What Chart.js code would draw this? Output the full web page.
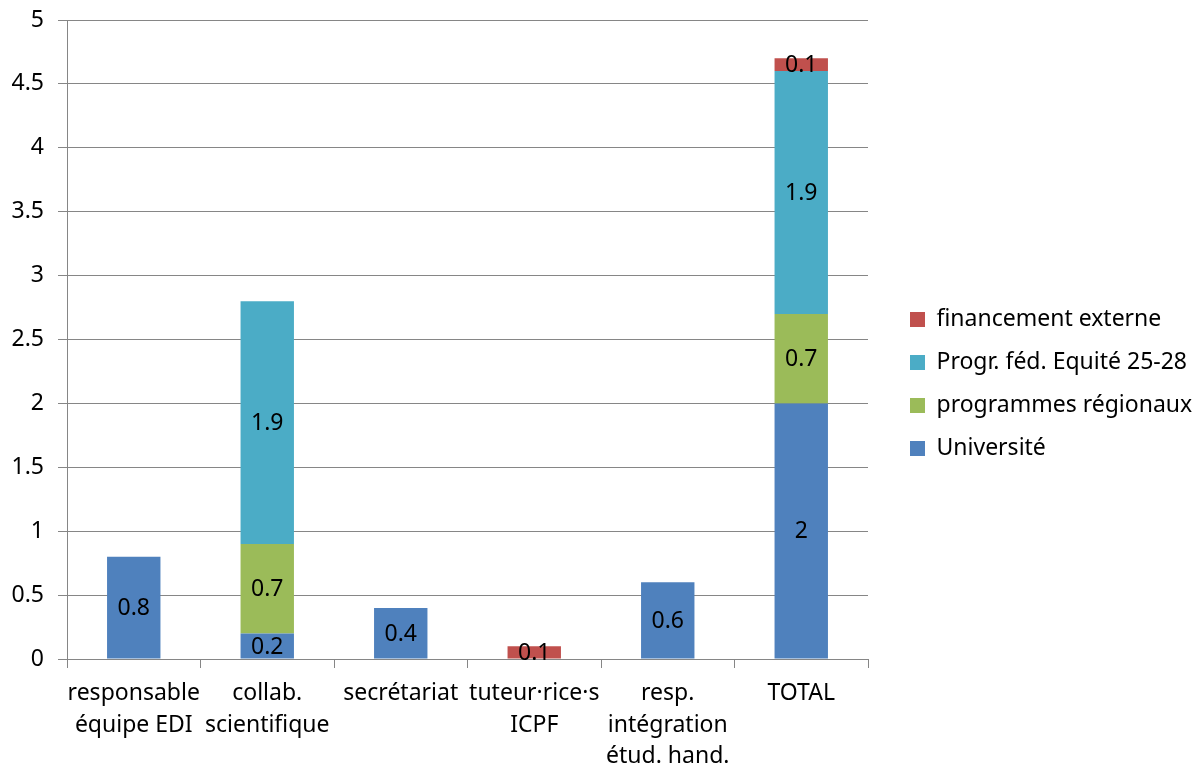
<!DOCTYPE html>
<html>
<head>
<meta charset="utf-8">
<script src="https://cdn.jsdelivr.net/npm/chart.js@4"></script>
<style>
  html, body { margin: 0; padding: 0; background: #fff; }
  #wrap { width: 1197px; height: 771px; }
</style>
</head>
<body>
<div id="wrap"><canvas id="postesChart"></canvas></div>
<script>
// catégories (axe x)
var categories = [
    ['responsable', 'équipe EDI'],
    ['collab.', 'scientifique'],
    'secrétariat',
    ['tuteur·rice·s', 'ICPF'],
    ['resp.', 'intégration', 'étud. hand.'],
    'TOTAL'
];

// valeurs par source de financement
var universite = [0.8, 0.2, 0.4, 0, 0.6, 2];
var regionaux = [0, 0.7, 0, 0, 0, 0.7];
var federal = [0, 1.9, 0, 0, 0, 1.9];
var externe = [0, 0, 0, 0.1, 0, 0.1];

var yTicks = [0, 0.5, 1, 1.5, 2, 2.5, 3, 3.5, 4, 4.5, 5];

var FONT = '"Noto Sans", sans-serif';

// étiquettes au centre des barres
var valueLabels = {
    id: 'valueLabels',
    afterDatasetsDraw: function (chart) {
        var ctx = chart.ctx;
        ctx.save();
        ctx.font = '23px ' + FONT;
        ctx.fillStyle = '#000';
        ctx.textAlign = 'center';
        ctx.textBaseline = 'middle';
        chart.data.datasets.forEach(function (ds, i) {
            var meta = chart.getDatasetMeta(i);
            meta.data.forEach(function (bar, j) {
                var v = ds.data[j];
                if (!v) return;
                var mid = (bar.y + bar.base) / 2;
                ctx.fillText(String(v), bar.x, mid + 1);
            });
        });
        ctx.restore();
    }
};

// largeur fixe de la légende à droite + petit décalage
var legendBox = {
    id: 'legendBox',
    beforeLayout: function (chart) {
        var lg = chart.legend;
        if (lg && !lg._patched) {
            var fit = lg.fit;
            lg.fit = function () {
                fit.call(this);
                this.width = 329;
            };
            lg._patched = true;
        }
    },
    afterLayout: function (chart) {
        var lg = chart.legend;
        lg.left += 22;
        lg.right += 22;
        var shift = 385 - (lg.top + lg.bottom) / 2 - 1;
        lg.top += shift;
        lg.bottom += shift;
    }
};

var ctx = document.getElementById('postesChart').getContext('2d');
var chart = new Chart(ctx, {
    type: 'bar',
    data: {
        labels: categories,
        datasets: [
            { label: 'Université', data: universite, backgroundColor: '#4F81BD' },
            { label: 'programmes régionaux', data: regionaux, backgroundColor: '#9BBB59' },
            { label: 'Progr. féd. Equité 25-28', data: federal, backgroundColor: '#4BACC6' },
            { label: 'financement externe', data: externe, backgroundColor: '#C0504D' }
        ]
    },
    options: {
        responsive: true,
        maintainAspectRatio: false,
        animation: false,
        layout: { padding: { top: 20, right: 0, left: 0, bottom: 0 } },
        datasets: {
            bar: { categoryPercentage: 1.0, barPercentage: 0.4 }
        },
        plugins: {
            legend: {
                position: 'right',
                reverse: true,
                labels: {
                    font: { family: FONT, size: 23 },
                    color: '#000',
                    boxWidth: 15,
                    boxHeight: 15,
                    padding: 20
                }
            },
            tooltip: { enabled: false }
        },
        scales: {
            x: {
                stacked: true,
                grid: {
                    offset: true,
                    drawOnChartArea: false,
                    color: '#868686',
                    tickLength: 9
                },
                border: { color: '#868686' },
                ticks: {
                    font: { family: FONT, size: 23, lineHeight: 1.37 },
                    color: '#000',
                    maxRotation: 0,
                    autoSkip: false,
                    padding: 10
                },
                afterFit: function (scale) { scale.height = 112; }
            },
            y: {
                stacked: true,
                min: 0,
                max: 5,
                afterBuildTicks: function (scale) {
                    scale.ticks = yTicks.map(function (v) { return { value: v }; });
                },
                grid: { color: '#868686', tickLength: 9 },
                border: { color: '#868686' },
                ticks: {
                    font: { family: FONT, size: 23 },
                    color: '#000',
                    padding: 14,
                    callback: function (v) { return String(v); }
                },
                afterFit: function (scale) {
                    scale.width = 67;
                    scale.paddingTop = 0;
                    scale.paddingBottom = 0;
                }
            }
        }
    },
    plugins: [valueLabels, legendBox]
});
</script>
</body>
</html>
